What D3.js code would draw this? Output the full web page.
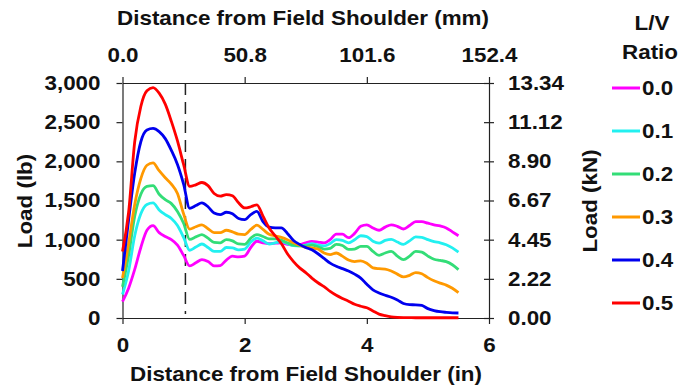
<!DOCTYPE html>
<html>
<head>
<meta charset="utf-8">
<script src="https://cdn.jsdelivr.net/npm/d3@7"></script>
<style>
  body { margin: 0; background: #fff; }
  text { font-family: "Liberation Sans", Arial, sans-serif; font-weight: bold; fill: #111; }
</style>
</head>
<body>
<div id="chart"></div>
<script>
/* DATA */
const distanceIn = [0.0, 0.1, 0.2, 0.3, 0.4, 0.5, 0.6, 0.7, 0.8, 0.9,
  1.0, 1.1, 1.2, 1.3, 1.4, 1.5, 1.6, 1.7, 1.8, 1.9,
  2.0, 2.1, 2.2, 2.3, 2.4, 2.5, 2.6, 2.7, 2.8, 2.9,
  3.0, 3.1, 3.2, 3.3, 3.4, 3.5, 3.6, 3.7, 3.8, 3.9,
  4.0, 4.1, 4.2, 4.3, 4.4, 4.5, 4.6, 4.7, 4.8, 4.9,
  5.0, 5.1, 5.2, 5.3, 5.4, 5.5];

const load00 = [210, 380, 620, 900, 1120, 1180, 1090, 1040, 1000, 930,
  800, 665, 705, 745, 720, 665, 670, 740, 790, 780,
  790, 900, 980, 960, 950, 955, 960, 940, 930, 935,
  960, 978, 970, 958, 1000, 1070, 1070, 1025, 1080, 1170,
  1190, 1150, 1120, 1160, 1190, 1170, 1136, 1180, 1230, 1230,
  1210, 1190, 1175, 1150, 1100, 1050];
const load01 = [300, 600, 1050, 1330, 1450, 1470, 1380, 1320, 1270, 1180,
  1030, 865, 905, 945, 900, 850, 850, 900, 895, 870,
  880, 970, 1020, 985, 945, 960, 975, 950, 925, 920,
  930, 950, 930, 920, 950, 1000, 990, 960, 1000, 1050,
  1040, 980, 955, 990, 1005, 970, 940, 985, 1035, 1030,
  1000, 975, 960, 935, 895, 840];
const load02 = [400, 800, 1300, 1580, 1680, 1690, 1580, 1510, 1460, 1360,
  1210, 1005, 1035, 1065, 1020, 965, 960, 1000, 985, 945,
  940, 1020, 1065, 1040, 1010, 1010, 995, 960, 930, 920,
  920, 930, 910, 880, 890, 940, 925, 875, 880, 915,
  915, 850, 800, 830, 850, 790, 745, 790, 850, 840,
  790, 750, 735, 720, 680, 617];
const load03 = [510, 950, 1450, 1780, 1950, 1980, 1880, 1790, 1710, 1590,
  1330, 1135, 1165, 1190, 1140, 1090, 1090, 1120, 1100, 1070,
  1065, 1130, 1185, 1130, 1070, 1050, 1030, 1000, 960, 930,
  900, 895, 880, 830, 810, 830, 790, 740, 720, 730,
  700, 640, 630, 625, 600, 560, 525, 545, 580, 565,
  515, 475, 445, 420, 380, 325];
const load04 = [600, 1250, 1850, 2250, 2400, 2420, 2380, 2290, 2140, 1960,
  1710, 1400, 1435, 1470, 1420, 1340, 1320, 1350, 1330, 1270,
  1255, 1320, 1360, 1230, 1160, 1150, 1150, 1080, 990, 940,
  900, 870, 820, 760, 700, 660, 630, 600, 560, 510,
  430, 360, 320, 290, 265, 230, 185, 170, 168, 160,
  120, 95, 80, 72, 66, 64];
const load05 = [850, 1350, 2250, 2700, 2900, 2940, 2870, 2730, 2510, 2260,
  1960, 1680, 1700, 1730, 1690, 1590, 1555, 1575, 1560, 1470,
  1405, 1420, 1445, 1300, 1150, 1050, 950, 820, 720, 640,
  580, 510, 450, 400, 340, 290, 250, 215, 175, 150,
  130, 90, 50, 30, 15, 8, 5, 4, 3, 3,
  3, 3, 3, 3, 3, 3];

const ratios = ["0.0", "0.1", "0.2", "0.3", "0.4", "0.5"];
const colors = ["#ff00ff", "#22f0f0", "#33dd77", "#ff9900", "#0000ee", "#ff0000"];
const loadTicks = [0, 500, 1000, 1500, 2000, 2500, 3000];
const kNLabels = ["0.00", "2.22", "4.45", "6.67", "8.90", "11.12", "13.34"];
const inTicks = [0, 2, 4, 6];
const mmTicks = [0, 50.8, 101.6, 152.4];
const gaugeLineIn = 1.03;

/* CONSTANTS */
const width = 691,
  height = 389,
  margin = { top: 83, bottom: 71, left: 122.5, right: 202 },
  fontSize = 20,
  sx = 1.12;

const series = [load00, load01, load02, load03, load04, load05].map((vals, i) => ({
  ratio: ratios[i],
  color: colors[i],
  values: vals.map((v, j) => ({ x: distanceIn[j], y: v }))
}));

const svg = d3.select("#chart")
  .append("svg")
  .attr("width", width)
  .attr("height", height);

const x0 = margin.left, x1 = width - margin.right;
const y0 = height - margin.bottom, y1 = margin.top;

const xScale = d3.scaleLinear().domain([0, 6]).range([x0, x1]);
const xScaleMm = d3.scaleLinear().domain([0, 152.4]).range([x0, x1]);
const yScale = d3.scaleLinear().domain([0, 3000]).range([y0, y1]);

function styleAxis(g) {
  g.selectAll("path, line").attr("stroke", "#222").attr("stroke-width", 1.2);
  g.selectAll("text")
    .attr("font-size", fontSize)
    .attr("font-family", "Liberation Sans, Arial, sans-serif")
    .attr("font-weight", "bold")
    .attr("fill", "#111");
}

// bottom axis (in)
svg.append("g")
  .attr("transform", `translate(0, ${y0})`)
  .call(d3.axisBottom(xScale).tickValues(inTicks).tickSize(6).tickSizeOuter(0).tickFormat(d3.format("d")))
  .call(styleAxis)
  .call(g => g.selectAll("text").attr("y", 20).attr("transform", `scale(${sx},1)`));

// top axis (mm)
svg.append("g")
  .attr("transform", `translate(0, ${y1})`)
  .call(d3.axisTop(xScaleMm).tickValues(mmTicks).tickSize(6).tickSizeOuter(0).tickFormat(d3.format(".1f")))
  .call(styleAxis)
  .call(g => g.selectAll("text").attr("y", -21).attr("transform", `scale(${sx},1)`));

// left axis (lb)
svg.append("g")
  .attr("transform", `translate(${x0}, 0)`)
  .call(d3.axisLeft(yScale).tickValues(loadTicks).tickSize(6).tickSizeOuter(0).tickFormat(d3.format(",")))
  .call(styleAxis)
  .call(g => g.selectAll("text").attr("x", -22 / sx).attr("transform", `scale(${sx},1)`));

// right axis (kN), ticks cross the line
svg.append("g")
  .attr("transform", `translate(${x1}, 0)`)
  .call(d3.axisRight(yScale).tickValues(loadTicks).tickSize(5).tickSizeOuter(0).tickFormat((d, i) => kNLabels[i]))
  .call(styleAxis)
  .call(g => g.selectAll(".tick line").attr("x1", -5).attr("x2", 5))
  .call(g => g.selectAll("text").attr("x", 19 / sx).attr("transform", `scale(${sx},1)`));

// axis titles
function label(txt, x, y, rotate) {
  svg.append("text")
    .attr("transform", `translate(${x},${y}) rotate(${rotate || 0}) scale(${sx},1)`)
    .attr("text-anchor", "middle")
    .attr("dominant-baseline", "central")
    .attr("font-size", fontSize)
    .text(txt);
}
label("Distance from Field Shoulder (mm)", 303, 18);
label("Distance from Field Shoulder (in)", 306, 374);
label("Load (lb)", 25, 201, -90);
label("Load (kN)", 590, 201, -90);

// dashed gauge line
svg.append("line")
  .attr("x1", xScale(gaugeLineIn)).attr("x2", xScale(gaugeLineIn))
  .attr("y1", y1).attr("y2", y0 - 4)
  .attr("stroke", "#222")
  .attr("stroke-width", 1.5)
  .attr("stroke-dasharray", "12,7");

// curves
const line = d3.line()
  .x(d => xScale(d.x))
  .y(d => yScale(d.y))
  .curve(d3.curveMonotoneX);

svg.selectAll("path.series")
  .data(series)
  .join("path")
  .attr("class", "series")
  .attr("d", d => line(d.values))
  .attr("fill", "none")
  .attr("stroke", d => d.color)
  .attr("stroke-width", 2.8)
  .attr("stroke-linejoin", "round");

// legend
label("L/V", 652, 23);
label("Ratio", 650, 52);

const legend = svg.selectAll("g.legend")
  .data(series)
  .join("g")
  .attr("class", "legend")
  .attr("transform", (d, i) => `translate(612, ${88 + i * 43})`);

legend.append("line")
  .attr("x1", 0).attr("x2", 28)
  .attr("stroke", d => d.color)
  .attr("stroke-width", 3);

legend.append("text")
  .attr("transform", `translate(30,0) scale(${sx},1)`)
  .attr("dominant-baseline", "central")
  .attr("font-size", fontSize)
  .text(d => d.ratio);
</script>
</body>
</html>
